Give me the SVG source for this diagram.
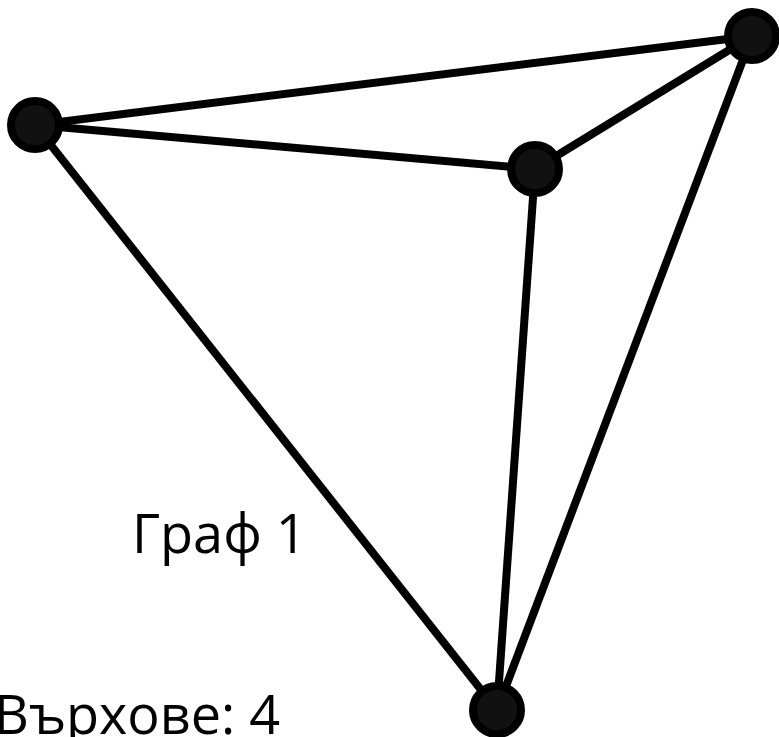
<svg xmlns="http://www.w3.org/2000/svg" width="779" height="737" viewBox="0 0 779 737">
<style>
.e{stroke:#000;stroke-width:8;fill:none}
.n{fill:#111;stroke:#000;stroke-width:8}
.t{font-family:"Open Sans","Noto Sans",sans-serif;font-size:54px;fill:#000}
</style>
<rect width="779" height="737" fill="#fff"/>
<g id="edges">
<line class="e" x1="35" y1="125" x2="752" y2="36"/>
<line class="e" x1="35" y1="125" x2="535" y2="169"/>
<line class="e" x1="35" y1="125" x2="497" y2="710"/>
<line class="e" x1="535" y1="169" x2="752" y2="36"/>
<line class="e" x1="535" y1="169" x2="497" y2="710"/>
<line class="e" x1="752" y1="36" x2="497" y2="710"/>
</g>
<g id="nA"><circle class="n" cx="35" cy="125" r="24"/></g>
<g id="nB"><circle class="n" cx="752" cy="36" r="24"/></g>
<g id="nC"><circle class="n" cx="535" cy="169" r="24"/></g>
<g id="nD"><circle class="n" cx="497" cy="710" r="24"/></g>
<text class="t" x="132" y="553">Граф 1</text>
<text class="t" x="-6" y="734">Върхове: 4</text>
</svg>
